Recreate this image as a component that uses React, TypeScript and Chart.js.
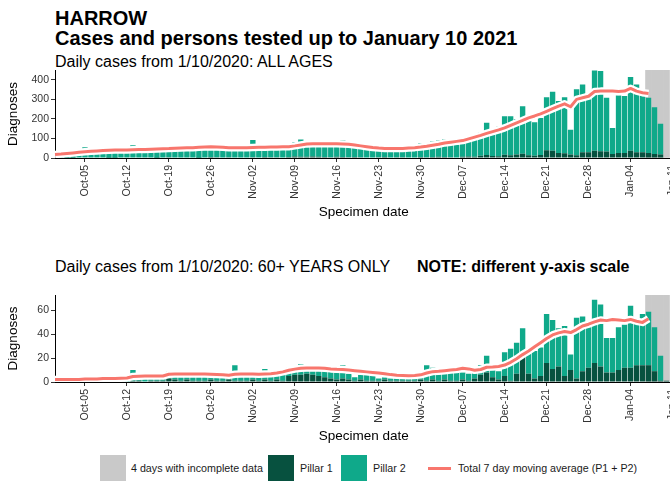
import React, { useEffect, useRef } from 'react';
import { Chart, registerables } from 'chart.js';

Chart.register(...registerables);

// ---------- categories & tick labels ----------
const axisStartDay = '2020-09-30';
const axisDayCount = 104; // 2020-09-30 .. 2021-01-11
const firstDataDay = '2020-10-01';
const firstMaDay = '2020-09-30';
const tickLabels = ['Oct-05', 'Oct-12', 'Oct-19', 'Oct-26', 'Nov-02', 'Nov-09', 'Nov-16', 'Nov-23', 'Nov-30', 'Dec-07', 'Dec-14', 'Dec-21', 'Dec-28', 'Jan-04', 'Jan-11'];
const incompleteDays = ['2021-01-07', '2021-01-08', '2021-01-09', '2021-01-10'];
const legendLabels = ['4 days with incomplete data', 'Pillar 1', 'Pillar 2', 'Total 7 day moving average (P1 + P2)'];

// ---------- ALL AGES (1 Oct 2020 .. 10 Jan 2021) ----------
const allPillar1 = [
  2, 1, 1, 2, 3, 2, 3, 2, 1, 1, 2, 3, 2, 3, 2, 2, 1, 3, 4, 3, 3, 2, 2, 1, 2, 5, 4, 3, 4, 3, 2,
  2, 4, 3, 5, 4, 4, 3, 5, 8, 7, 6, 8, 6, 5, 4, 6, 5, 4, 5, 4, 3, 3, 4, 5, 3, 4, 4, 3, 2, 5,
  4, 5, 6, 5, 4, 3, 6, 8, 7, 12, 15, 10, 9, 16, 14, 18, 22, 14, 12, 15, 40, 37, 26, 24, 18, 14, 30, 30, 37, 35, 33,
  20, 25, 25, 37, 30, 30, 25, 20, 18, 0,
];
const allPillar2 = [
  16, 21, 15, 18, 52, 33, 35, 38, 35, 33, 30, 35, 63, 37, 40, 42, 39, 35, 44, 47, 49, 48, 46, 45, 48, 50, 54, 53, 50, 47, 46,
  42, 88, 47, 43, 48, 50, 45, 41, 72, 87, 56, 58, 64, 59, 56, 64, 87, 62, 57, 54, 49, 45, 46, 43, 41, 42, 44, 39, 42, 71,
  50, 79, 84, 91, 66, 65, 74, 103, 88, 121, 165, 115, 151, 198, 200, 182, 243, 183, 171, 190, 271, 302, 265, 287, 127, 337, 346, 289, 411, 410, 275,
  134, 295, 292, 377, 346, 315, 283, 240, 157, 0,
];
// 7 day moving average, 30 Sep 2020 .. 7 Jan 2021
const allMovingAvg = [
  18,
  20, 23, 26, 29, 32, 34, 36, 38, 40, 41, 41, 41, 42, 43, 44, 45, 46, 47, 48, 50, 51, 52, 53, 55, 56, 57, 56, 55, 53, 52, 52,
  53, 54, 55, 55, 56, 56, 57, 58, 62, 67, 72, 73, 73, 73, 73, 73, 72, 70, 66, 62, 58, 54, 51, 49, 48, 48, 49, 51, 53, 56,
  60, 65, 70, 77, 81, 85, 89, 98, 107, 116, 126, 135, 144, 154, 167, 180, 192, 205, 215, 226, 239, 252, 265, 277, 262, 300, 308, 316, 340, 342, 342,
  342, 340, 342, 356, 342, 334, 330,
];
const allYMax = 450;
const allYTicks = [0, 100, 200, 300, 400];

// ---------- 60+ YEARS ----------
const oldPillar1 = [
  0, 1, 0, 0, 1, 0, 0, 1, 0, 0, 1, 0, 1, 1, 0, 1, 1, 1, 3, 2, 1, 2, 1, 1, 1, 2, 1, 1, 2, 1, 1,
  1, 2, 1, 2, 1, 2, 1, 5, 6, 6, 7, 6, 5, 4, 3, 2, 3, 2, 1, 2, 1, 1, 1, 2, 1, 1, 1, 1, 1, 2,
  1, 2, 1, 2, 1, 1, 2, 1, 3, 6, 8, 4, 2, 5, 1, 7, 22, 7, 3, 5, 16, 11, 13, 5, 10, 3, 9, 12, 16, 13, 8,
  8, 10, 12, 12, 14, 14, 14, 9, 1, 1,
];
const oldPillar2 = [
  1, 1, 1, 1, 1, 2, 1, 1, 2, 1, 1, 3, 9, 2, 3, 3, 2, 3, 6, 3, 5, 3, 4, 5, 4, 4, 4, 3, 4, 13, 5,
  5, 7, 5, 9, 5, 5, 5, 7, 6, 9, 4, 6, 6, 6, 8, 6, 11, 5, 3, 4, 6, 5, 2, 2, 2, 2, 3, 2, 3, 3,
  13, 10, 8, 8, 8, 9, 6, 6, 6, 8, 14, 6, 7, 20, 27, 26, 23, 18, 23, 24, 41, 41, 32, 42, 13, 51, 46, 39, 53, 52, 29,
  29, 36, 36, 52, 37, 43, 45, 37, 21, 0,
];
const oldMovingAvg = [
  2,
  2, 2, 2, 2, 2.5, 2.5, 2.5, 3, 3, 3, 3.2, 3.4, 4.6, 4.8, 5, 5, 5, 5, 6.5, 6.8, 6.8, 6.8, 6.8, 6.8, 6.8, 6.6, 6.3, 6, 5.6, 6.5, 6.8,
  6.8, 6.8, 6.5, 6.8, 7, 7.5, 8.5, 9.8, 10.8, 11.5, 11.8, 11.8, 11.8, 11.6, 11, 10.6, 10.4, 10, 9.5, 9, 8.5, 8, 7.6, 7, 6.2, 5.6, 5.4, 5.3, 5.4, 6,
  7.5, 8.7, 9, 9.5, 10, 10.5, 11.6, 11, 9.8, 10.5, 12.4, 12.5, 13, 14.2, 16.5, 19.5, 23, 26, 29.5, 33, 36.5, 39.5, 41.2, 42.3, 41.5, 44, 47, 48.5, 50.5, 52, 51.5,
  52.5, 52, 51.5, 52.5, 51, 50, 53,
];
const oldYMax = 73;
const oldYTicks = [0, 20, 40, 60];

// ---------- styling ----------
const FONT = '"Liberation Sans", Arial, Helvetica, sans-serif';
const TEAL = '#0FA98A';
const DARK = '#07513F';
const GRAY = '#C9C9C9';
const RED = '#F8766D';
const TICK_TEXT = '#333333';

const MONTHS = ['Jan', 'Feb', 'Mar', 'Apr', 'May', 'Jun', 'Jul', 'Aug', 'Sep', 'Oct', 'Nov', 'Dec'];

function buildCategories(start: string, n: number): string[] {
  const out: string[] = [];
  const t0 = Date.parse(start + 'T00:00:00Z');
  for (let i = 0; i < n; i++) out.push(new Date(t0 + i * 86400000).toISOString().slice(0, 10));
  return out;
}
const categories = buildCategories(axisStartDay, axisDayCount);

function shortLabel(iso: string): string {
  return MONTHS[+iso.slice(5, 7) - 1] + '-' + iso.slice(8, 10);
}
function isTickDay(i: number): boolean {
  return i >= 0 && i < categories.length && tickLabels.includes(shortLabel(categories[i]));
}
function alignTo(values: number[], first: string): (number | null)[] {
  const i0 = categories.indexOf(first);
  return categories.map((_, i) => (i >= i0 && i - i0 < values.length ? values[i - i0] : null));
}

Chart.defaults.font.family = FONT;

type PanelProps = {
  top: number;
  height: number;
  p1: number[];
  p2: number[];
  ma: number[];
  yMax: number;
  yTicks: number[];
};

function Panel({ top, height, p1, p2, ma, yMax, yTicks }: PanelProps) {
  const ref = useRef<HTMLCanvasElement>(null);
  useEffect(() => {
    if (!ref.current) return;
    const maData = alignTo(ma, firstMaDay);
    const chart = new Chart(ref.current, {
      type: 'bar',
      data: {
        labels: categories,
        datasets: [
          {
            type: 'line',
            label: legendLabels[3],
            data: maData,
            borderColor: RED,
            borderWidth: 3,
            pointRadius: 0,
            tension: 0,
            borderCapStyle: 'butt',
            borderJoinStyle: 'round',
            stack: 'ma',
            order: 0,
          } as any,
          {
            type: 'line',
            label: 'halo',
            data: maData,
            borderColor: '#FFFFFF',
            borderWidth: 7.5,
            pointRadius: 0,
            tension: 0,
            borderCapStyle: 'butt',
            borderJoinStyle: 'round',
            stack: 'halo',
            order: 1,
          } as any,
          {
            type: 'bar',
            label: legendLabels[1],
            data: alignTo(p1, firstDataDay),
            backgroundColor: DARK,
            stack: 'p',
            order: 2,
            barPercentage: 1,
            categoryPercentage: 0.9,
          } as any,
          {
            type: 'bar',
            label: legendLabels[2],
            data: alignTo(p2, firstDataDay),
            backgroundColor: TEAL,
            stack: 'p',
            order: 3,
            barPercentage: 1,
            categoryPercentage: 0.9,
          } as any,
          {
            type: 'bar',
            label: legendLabels[0],
            data: categories.map((c) => (incompleteDays.includes(c) ? yMax : null)),
            backgroundColor: GRAY,
            stack: 'bg',
            grouped: false,
            order: 4,
            barPercentage: 1,
            categoryPercentage: 1,
          } as any,
        ],
      },
      options: {
        responsive: false,
        animation: false,
        events: [],
        layout: { padding: { top: 10, right: 27.5, bottom: 0, left: 0 } },
        plugins: { legend: { display: false }, tooltip: { enabled: false }, title: { display: false } },
        scales: {
          x: {
            type: 'category',
            offset: false,
            stacked: true,
            grid: {
              offset: false,
              drawOnChartArea: false,
              drawTicks: true,
              tickLength: 4,
              tickColor: (ctx: any) => (isTickDay(ctx.index) ? '#333333' : 'rgba(0,0,0,0)'),
            },
            border: { display: true, color: '#000000', width: 1 },
            ticks: {
              autoSkip: false,
              minRotation: 90,
              maxRotation: 90,
              padding: 3,
              color: TICK_TEXT,
              font: { size: 10.5 },
              callback: (_v: any, i: number) => (isTickDay(i) ? shortLabel(categories[i]) : ''),
            },
            title: {
              display: true,
              text: 'Specimen date',
              color: '#000000',
              font: { size: 13.5 },
              padding: { top: 0, bottom: 0 },
            },
            afterFit: (s: any) => {
              s.height = 62;
            },
          },
          y: {
            stacked: true,
            min: 0,
            max: yMax,
            afterBuildTicks: (s: any) => {
              s.ticks = yTicks.map((v) => ({ value: v }));
            },
            grid: { drawOnChartArea: false, tickLength: 4, tickColor: '#333333' },
            border: { display: true, color: '#000000', width: 1 },
            ticks: { padding: 2, color: TICK_TEXT, font: { size: 10.5 } },
            title: {
              display: true,
              text: 'Diagnoses',
              color: '#000000',
              font: { size: 13.5 },
              padding: { top: 5, bottom: 0 },
            },
            afterFit: (s: any) => {
              s.width = 55;
            },
          },
        },
      } as any,
    });
    return () => chart.destroy();
  }, []);
  return (
    <canvas
      ref={ref}
      width={700}
      height={height}
      style={{ position: 'absolute', left: 0, top, width: 700, height }}
    />
  );
}

const textBase: React.CSSProperties = { position: 'absolute', whiteSpace: 'nowrap', color: '#000', fontFamily: FONT };

export default function App() {
  const legendTop = 455;
  const box = 26;
  const legendFont: React.CSSProperties = { ...textBase, top: legendTop, fontSize: 10.7, lineHeight: box + 'px', color: '#1a1a1a' };
  return (
    <div style={{ position: 'fixed', left: 0, top: 0, width: 670, height: 485, overflow: 'hidden', background: '#fff' }}>
      <div style={{ ...textBase, left: 55, top: 8, fontSize: 20, lineHeight: '20px', fontWeight: 'bold' }}>HARROW</div>
      <div style={{ ...textBase, left: 55, top: 28, fontSize: 20, lineHeight: '20px', fontWeight: 'bold' }}>
        Cases and persons tested up to January 10 2021
      </div>
      <div style={{ ...textBase, left: 55, top: 53.5, fontSize: 16, lineHeight: '16px' }}>Daily cases from 1/10/2020: ALL AGES</div>
      <Panel top={60} height={160} p1={allPillar1} p2={allPillar2} ma={allMovingAvg} yMax={allYMax} yTicks={allYTicks} />

      <div style={{ ...textBase, left: 55, top: 258.5, fontSize: 16, lineHeight: '16px' }}>Daily cases from 1/10/2020: 60+ YEARS ONLY</div>
      <div style={{ ...textBase, left: 417, top: 258.5, fontSize: 16, lineHeight: '16px', fontWeight: 'bold' }}>NOTE: different y-axis scale</div>
      <Panel top={285} height={159} p1={oldPillar1} p2={oldPillar2} ma={oldMovingAvg} yMax={oldYMax} yTicks={oldYTicks} />

      <div style={{ position: 'absolute', left: 100, top: legendTop, width: box, height: box, background: GRAY }} />
      <div style={{ ...legendFont, left: 131 }}>{legendLabels[0]}</div>
      <div style={{ position: 'absolute', left: 268, top: legendTop, width: box, height: box, background: DARK }} />
      <div style={{ ...legendFont, left: 300 }}>{legendLabels[1]}</div>
      <div style={{ position: 'absolute', left: 341, top: legendTop, width: box, height: box, background: TEAL }} />
      <div style={{ ...legendFont, left: 373 }}>{legendLabels[2]}</div>
      <div style={{ position: 'absolute', left: 428, top: legendTop + box / 2 - 1.5, width: 23, height: 3, background: RED }} />
      <div style={{ ...legendFont, left: 458 }}>{legendLabels[3]}</div>
    </div>
  );
}
